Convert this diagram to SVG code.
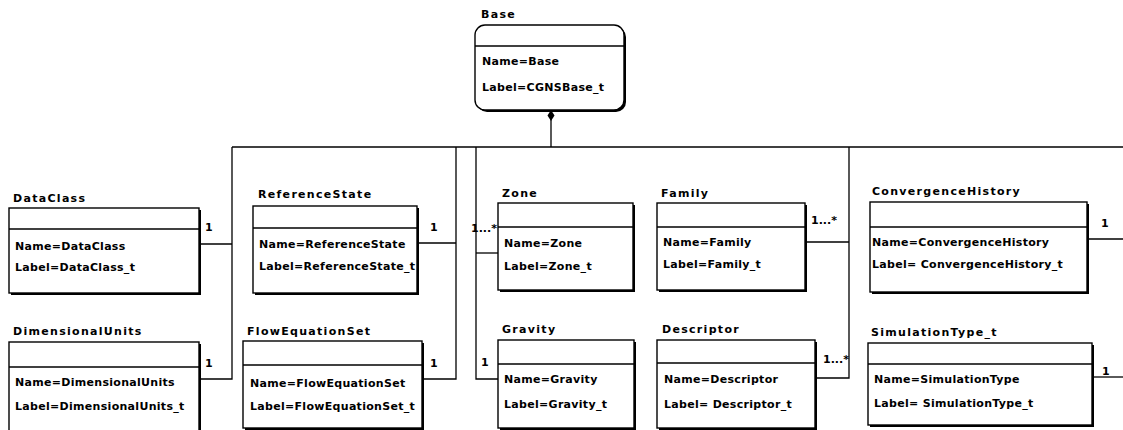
<svg xmlns="http://www.w3.org/2000/svg" width="1123" height="430" viewBox="0 0 1123 430">
  <style>
    .bg { fill: #ffffff; }
    .shadow { fill: #000000; }
    .box { fill: #ffffff; stroke: #000000; stroke-width: 1.4; }
    .sep { stroke: #000000; stroke-width: 1.4; }
    .title { font-family: "DejaVu Sans", sans-serif; font-weight: bold; font-size: 11px; letter-spacing: 1.3px; fill: #000000; }
    .attr { font-family: "DejaVu Sans", sans-serif; font-weight: bold; font-size: 11px; letter-spacing: 0.3px; fill: #000000; }
    .mult { font-family: "DejaVu Sans", sans-serif; font-weight: bold; font-size: 11px; fill: #000000; }
    .wire { fill: none; stroke: #000000; stroke-width: 1.3; }
  </style>
  <rect class="bg" x="0" y="0" width="1123" height="430"/>

  <!-- connectors: bus from Base plus branches to each child -->
  <g id="connectors">
    <polyline class="wire" points="551,116 551,147"/>
    <polygon points="551,110 554.5,115.5 551,121 547.5,115.5" fill="#000000"/>
    <line class="wire" x1="232" y1="147" x2="1123" y2="147"/>

    <polyline class="wire" points="199,244 232,244"/>
    <polyline class="wire" points="232,147 232,379 199,379"/>

    <polyline class="wire" points="417,243 456,243"/>
    <polyline class="wire" points="456,147 456,379 422,379"/>

    <polyline class="wire" points="476,253 498,253"/>
    <polyline class="wire" points="476,147 476,379 498,379"/>

    <polyline class="wire" points="805,242 849,242"/>
    <polyline class="wire" points="849,147 849,378 815,378"/>

    <polyline class="wire" points="1087,239 1123,239"/>
    <polyline class="wire" points="1092,377 1123,377"/>

    <text class="mult" x="205" y="231">1</text>
    <text class="mult" x="205" y="367">1</text>
    <text class="mult" x="430" y="231">1</text>
    <text class="mult" x="430" y="367">1</text>
    <text class="mult" x="471" y="232">1...*</text>
    <text class="mult" x="481" y="366">1</text>
    <text class="mult" x="811" y="224">1...*</text>
    <text class="mult" x="823" y="363">1...*</text>
    <text class="mult" x="1101" y="227">1</text>
    <text class="mult" x="1102" y="375">1</text>
  </g>

  <!-- root node -->
  <g id="node-base">
    <text class="title" x="481" y="18">Base</text>
    <rect class="shadow" x="477" y="27" width="149" height="85" rx="10"/>
    <rect class="box" x="475" y="25" width="149" height="85" rx="10"/>
    <line class="sep" x1="475" y1="46" x2="624" y2="46"/>
    <text class="attr" x="482" y="65">Name=Base</text>
    <text class="attr" x="482" y="91">Label=CGNSBase_t</text>
  </g>

  <g id="node-dataclass">
    <text class="title" x="13" y="202">DataClass</text>
    <rect class="shadow" x="11" y="210" width="190" height="85"/>
    <rect class="box" x="9" y="208" width="190" height="85"/>
    <line class="sep" x1="9" y1="229" x2="199" y2="229"/>
    <text class="attr" x="15" y="250">Name=DataClass</text>
    <text class="attr" x="15" y="271">Label=DataClass_t</text>
  </g>

  <g id="node-referencestate">
    <text class="title" x="258" y="198">ReferenceState</text>
    <rect class="shadow" x="255" y="208" width="164" height="87"/>
    <rect class="box" x="253" y="206" width="164" height="87"/>
    <line class="sep" x1="253" y1="228" x2="417" y2="228"/>
    <text class="attr" x="259" y="248">Name=ReferenceState</text>
    <text class="attr" x="259" y="270">Label=ReferenceState_t</text>
  </g>

  <g id="node-zone">
    <text class="title" x="502" y="197">Zone</text>
    <rect class="shadow" x="500" y="205" width="135" height="87"/>
    <rect class="box" x="498" y="203" width="135" height="87"/>
    <line class="sep" x1="498" y1="227" x2="633" y2="227"/>
    <text class="attr" x="504" y="247">Name=Zone</text>
    <text class="attr" x="504" y="270">Label=Zone_t</text>
  </g>

  <g id="node-family">
    <text class="title" x="661" y="197">Family</text>
    <rect class="shadow" x="659" y="205" width="148" height="87"/>
    <rect class="box" x="657" y="203" width="148" height="87"/>
    <line class="sep" x1="657" y1="227" x2="805" y2="227"/>
    <text class="attr" x="663" y="246">Name=Family</text>
    <text class="attr" x="663" y="268">Label=Family_t</text>
  </g>

  <g id="node-convergencehistory">
    <text class="title" x="872" y="195">ConvergenceHistory</text>
    <rect class="shadow" x="872" y="204" width="217" height="90"/>
    <rect class="box" x="870" y="202" width="217" height="90"/>
    <line class="sep" x1="870" y1="227" x2="1087" y2="227"/>
    <text class="attr" x="872" y="246">Name=ConvergenceHistory</text>
    <text class="attr" x="872" y="268">Label= ConvergenceHistory_t</text>
  </g>

  <g id="node-dimensionalunits">
    <text class="title" x="13" y="335">DimensionalUnits</text>
    <rect class="shadow" x="11" y="344" width="190" height="90"/>
    <rect class="box" x="9" y="342" width="190" height="90"/>
    <line class="sep" x1="9" y1="367" x2="199" y2="367"/>
    <text class="attr" x="15" y="386">Name=DimensionalUnits</text>
    <text class="attr" x="15" y="410">Label=DimensionalUnits_t</text>
  </g>

  <g id="node-flowequationset">
    <text class="title" x="247" y="335">FlowEquationSet</text>
    <rect class="shadow" x="245" y="343" width="179" height="87"/>
    <rect class="box" x="243" y="341" width="179" height="87"/>
    <line class="sep" x1="243" y1="365" x2="422" y2="365"/>
    <text class="attr" x="250" y="387">Name=FlowEquationSet</text>
    <text class="attr" x="250" y="410">Label=FlowEquationSet_t</text>
  </g>

  <g id="node-gravity">
    <text class="title" x="502" y="333">Gravity</text>
    <rect class="shadow" x="500" y="342" width="136" height="88"/>
    <rect class="box" x="498" y="340" width="136" height="88"/>
    <line class="sep" x1="498" y1="364" x2="634" y2="364"/>
    <text class="attr" x="504" y="383">Name=Gravity</text>
    <text class="attr" x="504" y="408">Label=Gravity_t</text>
  </g>

  <g id="node-descriptor">
    <text class="title" x="662" y="333">Descriptor</text>
    <rect class="shadow" x="659" y="342" width="158" height="88"/>
    <rect class="box" x="657" y="340" width="158" height="88"/>
    <line class="sep" x1="657" y1="363" x2="815" y2="363"/>
    <text class="attr" x="664" y="383">Name=Descriptor</text>
    <text class="attr" x="664" y="408">Label= Descriptor_t</text>
  </g>

  <g id="node-simulationtype">
    <text class="title" x="871" y="336">SimulationType_t</text>
    <rect class="shadow" x="870" y="345" width="224" height="82"/>
    <rect class="box" x="868" y="343" width="224" height="82"/>
    <line class="sep" x1="868" y1="364" x2="1092" y2="364"/>
    <text class="attr" x="874" y="383">Name=SimulationType</text>
    <text class="attr" x="874" y="407">Label= SimulationType_t</text>
  </g>
</svg>
